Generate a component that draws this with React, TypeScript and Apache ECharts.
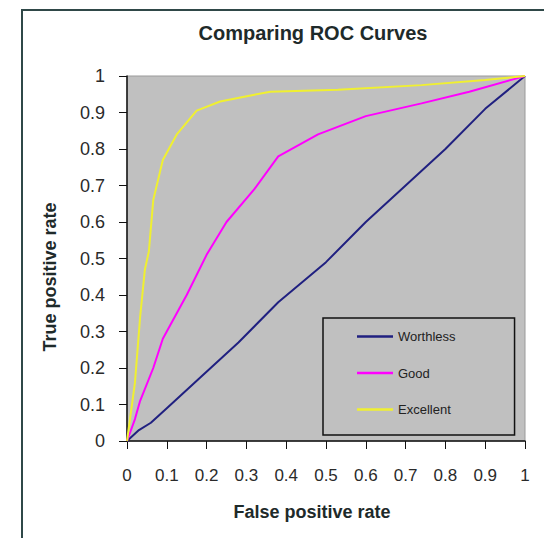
import React, { useEffect, useRef } from "react";
import * as echarts from "echarts";

// ROC curves: [false positive rate, true positive rate]
const worthless: [number, number][] = [
  [0, 0], [0.03, 0.03], [0.06, 0.05], [0.1, 0.09], [0.18, 0.17], [0.28, 0.27],
  [0.38, 0.38], [0.5, 0.49], [0.6, 0.6], [0.7, 0.7], [0.8, 0.8], [0.9, 0.91], [1, 1],
];
const good: [number, number][] = [
  [0, 0], [0.02, 0.06], [0.033, 0.11], [0.066, 0.2], [0.09, 0.28], [0.15, 0.4],
  [0.2, 0.51], [0.25, 0.6], [0.32, 0.69], [0.38, 0.78], [0.48, 0.84], [0.6, 0.89],
  [0.74, 0.925], [0.86, 0.957], [1, 1],
];
const excellent: [number, number][] = [
  [0, 0], [0.01, 0.08], [0.02, 0.16], [0.033, 0.34], [0.045, 0.47], [0.055, 0.52],
  [0.066, 0.66], [0.09, 0.77], [0.125, 0.84], [0.175, 0.905], [0.234, 0.93],
  [0.317, 0.948], [0.36, 0.957], [0.53, 0.962], [0.74, 0.975], [0.9, 0.989], [1, 1],
];
const seriesNames = ["Worthless", "Good", "Excellent"];
const seriesColors = ["#202080", "#ff00ff", "#f0f030"];

const FONT = "Liberation Sans, Arial, sans-serif";
const fmt = (v: number) => String(+v.toFixed(1));

export default function App() {
  const ref = useRef<HTMLDivElement>(null);

  useEffect(() => {
    if (!ref.current) return;
    const chart = echarts.init(ref.current, null, { renderer: "svg" });
    const data = [worthless, good, excellent];
    chart.setOption({
      animation: false,
      backgroundColor: "#ffffff",
      textStyle: { fontFamily: FONT },
      grid: {
        left: 127,
        top: 76,
        right: 19,
        bottom: 97,
        show: true,
        backgroundColor: "#c0c0c0",
        borderColor: "#9a9a9a",
        borderWidth: 1,
      },
      xAxis: {
        type: "value",
        min: 0,
        max: 1,
        interval: 0.1,
        splitLine: { show: false },
        axisLine: { show: true, onZero: false, lineStyle: { color: "#111", width: 1.5 } },
        axisTick: { show: true, length: 8, lineStyle: { color: "#111" } },
        axisLabel: { margin: 26, fontSize: 17, color: "#2a2a2a", fontFamily: FONT, formatter: fmt },
      },
      yAxis: {
        type: "value",
        min: 0,
        max: 1,
        interval: 0.1,
        splitLine: { show: false },
        axisLine: { show: true, onZero: false, lineStyle: { color: "#111", width: 1.5 } },
        axisTick: { show: true, length: 8, lineStyle: { color: "#111" } },
        axisLabel: { margin: 22, fontSize: 18, color: "#2a2a2a", fontFamily: FONT, formatter: fmt },
      },
      legend: {
        data: seriesNames,
        orient: "vertical",
        left: 323,
        top: 318,
        icon: "rect",
        itemWidth: 36,
        itemHeight: 2.5,
        itemGap: 23.5,
        padding: [12, 59, 19, 34],
        backgroundColor: "#c0c0c0",
        borderColor: "#111",
        borderWidth: 1.5,
        textStyle: { fontSize: 13, color: "#222", fontFamily: FONT },
      },
      series: seriesNames.map((name, i) => ({
        name,
        type: "line",
        data: data[i],
        symbol: "none",
        smooth: false,
        color: seriesColors[i],
        lineStyle: { color: seriesColors[i], width: 2 },
      })),
      graphic: [
        {
          type: "rect",
          shape: { x: 22, y: 10, width: 600, height: 600 },
          style: { fill: "none", stroke: "#2f4848", lineWidth: 2 },
          silent: true,
        },
        {
          type: "text",
          x: 313,
          y: 33,
          style: {
            text: "Comparing ROC Curves",
            font: `bold 20px ${FONT}`,
            fill: "#1e2a2a",
            align: "center",
            verticalAlign: "middle",
          },
        },
        {
          type: "text",
          x: 312,
          y: 512,
          style: {
            text: "False positive rate",
            font: `bold 18px ${FONT}`,
            fill: "#1e2a2a",
            align: "center",
            verticalAlign: "middle",
          },
        },
        {
          type: "text",
          x: 50,
          y: 277,
          rotation: Math.PI / 2,
          style: {
            text: "True positive rate",
            font: `bold 18px ${FONT}`,
            fill: "#1e2a2a",
            align: "center",
            verticalAlign: "middle",
          },
        },
      ],
    });
    return () => chart.dispose();
  }, []);

  return (
    <div
      ref={ref}
      style={{ position: "fixed", left: 0, top: 0, width: 544, height: 538 }}
    />
  );
}
